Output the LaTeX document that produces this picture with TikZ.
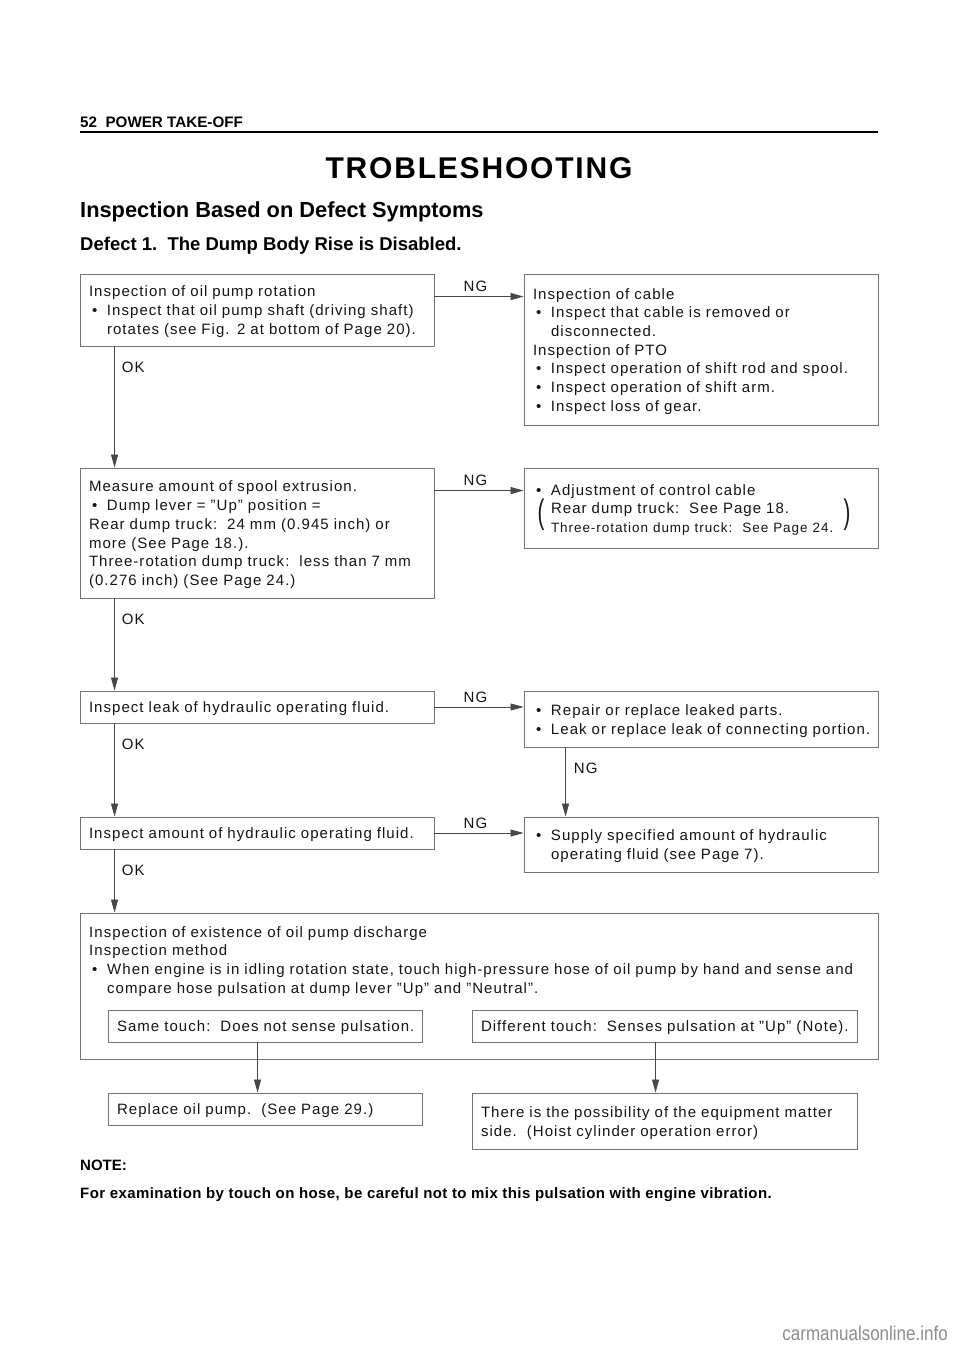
\documentclass[tikz,border=0pt]{standalone}
\usepackage{fontspec}
\setmainfont{Liberation Sans}
\usetikzlibrary{arrows.meta}
\newcommand{\bitem}{\makebox[18pt][l]{\hspace{3pt}\textbullet}}
\newcommand{\bind}{\hspace*{18pt}}
\newcommand{\bodyfont}{\fontsize{15}{18.7}\selectfont\addfontfeatures{LetterSpace=7}}
\begin{document}
\begin{tikzpicture}[x=1pt,y=-1pt,
  txt/.style={align=left, inner xsep=9pt, inner ysep=0pt, font=\bodyfont, text=black!92},
  box/.style={txt, draw=black!55, line width=0.9pt, execute at begin node={\rule{0pt}{14.5pt}}},
  arr/.style={draw=black!72, line width=0.8pt, -{Triangle[length=13pt,width=7pt]}},
  lbl/.style={inner sep=0pt, font=\bodyfont, text=black!92},
  head/.style={inner sep=0pt, anchor=base west, text=black},
]
\useasboundingbox (0,0) rectangle (960,1358);

% header
\node[head, font=\bfseries\fontsize{15.2}{17}\selectfont] (hdr) at (80,127) {52\ \ POWER TAKE-OFF};
\draw[line width=1.4pt] (80,132) -- (878,132);
\node[head, anchor=base, font=\bfseries\fontsize{30}{34}\selectfont\addfontfeatures{LetterSpace=6}] (title) at (479,178) {TROBLESHOOTING};
\node[head, font=\bfseries\fontsize{21.8}{24}\selectfont] (sub) at (80,217) {Inspection Based on Defect Symptoms};
\node[head, font=\bfseries\fontsize{18.5}{20}\selectfont] (def) at (80,250) {Defect 1.\ \ The Dump Body Rise is Disabled.};

% boxes
\node[box, minimum width=354pt, minimum height=72pt, text width=336pt] (b1) at (257,310)
 {Inspection of oil pump rotation\\
  \bitem Inspect that oil pump shaft (driving shaft)\\
  \bind rotates (see Fig. 2 at bottom of Page 20).};
\node[box, minimum width=354pt, minimum height=151pt, text width=336pt] (b2) at (701,349.5)
 {Inspection of cable\\
  \bitem Inspect that cable is removed or\\
  \bind disconnected.\\
  Inspection of PTO\\
  \bitem Inspect operation of shift rod and spool.\\
  \bitem Inspect operation of shift arm.\\
  \bitem Inspect loss of gear.};
\node[box, minimum width=354pt, minimum height=130pt, text width=336pt] (b3) at (257,533)
 {Measure amount of spool extrusion.\\
  \bitem Dump lever = "Up" position =\\
  Rear dump truck:\ \ 24 mm (0.945 inch) or\\
  more (See Page 18.).\\
  Three-rotation dump truck:\ \ less than 7 mm\\
  (0.276 inch) (See Page 24.)};
\node[box, minimum width=354pt, minimum height=80pt, text width=336pt] (b4) at (701,508)
 {\bitem Adjustment of control cable\\
  \bind Rear dump truck:\ \ See Page 18.\\
  \bind{\fontsize{13.5}{16}\selectfont\addfontfeatures{LetterSpace=7}Three-rotation dump truck:\ \ See Page 24.}};
\node[lbl, font=\fontsize{34}{34}\selectfont\addfontfeatures{FakeStretch=0.6}] (lp) at (541,515) {(};
\node[lbl, font=\fontsize{34}{34}\selectfont\addfontfeatures{FakeStretch=0.6}] (rp) at (847,515) {)};
\node[box, minimum width=354pt, minimum height=32pt, text width=336pt] (b5) at (257,707)
 {Inspect leak of hydraulic operating fluid.};
\node[box, minimum width=354pt, minimum height=56pt, text width=336pt] (b6) at (701,719)
 {\bitem Repair or replace leaked parts.\\
  \bitem Leak or replace leak of connecting portion.};
\node[box, minimum width=354pt, minimum height=32pt, text width=336pt] (b7) at (257,833)
 {Inspect amount of hydraulic operating fluid.};
\node[box, minimum width=354pt, minimum height=55pt, text width=336pt] (b8) at (701,844.5)
 {\bitem Supply specified amount of hydraulic\\
  \bind operating fluid (see Page 7).};
\node[box, minimum width=798pt, minimum height=146pt] (b9) at (479,986) {};
\node[txt, anchor=north west, inner xsep=0pt, text width=790pt] (b9t) at (89,926)
 {Inspection of existence of oil pump discharge\\
  Inspection method\\
  \bitem When engine is in idling rotation state, touch high-pressure hose of oil pump by hand and sense and\\
  \bind compare hose pulsation at dump lever "Up" and "Neutral".};
\node[box, minimum width=314pt, minimum height=32pt, text width=296pt] (ba) at (265,1026)
 {Same touch:\ \ Does not sense pulsation.};
\node[box, minimum width=385pt, minimum height=32pt, text width=367pt] (bb) at (664.5,1026)
 {Different touch:\ \ Senses pulsation at "Up" (Note).};
\node[box, minimum width=314pt, minimum height=32pt, text width=296pt] (bc) at (265,1109)
 {Replace oil pump.\ \ (See Page 29.)};
\node[box, minimum width=385pt, minimum height=56pt, text width=367pt] (bd) at (664.5,1121)
 {There is the possibility of the equipment matter\\
  side.\ \ (Hoist cylinder operation error)};

% horizontal NG connectors
\draw[arr] ([yshift=-23pt]b1.north east) -- ([yshift=-23pt]b1.north east -| b2.west)
  node[lbl, pos=0.46, anchor=base, yshift=5pt] {NG};
\draw[arr] ([yshift=-23pt]b3.north east) -- ([yshift=-23pt]b3.north east -| b4.west)
  node[lbl, pos=0.46, anchor=base, yshift=5pt] {NG};
\draw[arr] (b5.east) -- (b5.east -| b6.west)
  node[lbl, pos=0.46, anchor=base, yshift=5pt] {NG};
\draw[arr] (b7.east) -- (b7.east -| b8.west)
  node[lbl, pos=0.46, anchor=base, yshift=5pt] {NG};
% vertical OK connectors
\draw[arr] ([xshift=35pt]b1.south west) -- ([xshift=35pt]b1.south west |- b3.north)
  node[lbl, at start, anchor=north west, xshift=7pt, yshift=-15pt] {OK};
\draw[arr] ([xshift=35pt]b3.south west) -- ([xshift=35pt]b3.south west |- b5.north)
  node[lbl, at start, anchor=north west, xshift=7pt, yshift=-15pt] {OK};
\draw[arr] ([xshift=35pt]b5.south west) -- ([xshift=35pt]b5.south west |- b7.north)
  node[lbl, at start, anchor=north west, xshift=7pt, yshift=-15pt] {OK};
\draw[arr] ([xshift=35pt]b7.south west) -- ([xshift=35pt]b7.south west |- b9.north)
  node[lbl, at start, anchor=north west, xshift=7pt, yshift=-15pt] {OK};
\draw[arr] ([xshift=42pt]b6.south west) -- ([xshift=42pt]b6.south west |- b8.north)
  node[lbl, at start, anchor=north west, xshift=8pt, yshift=-15pt] {NG};
% result connectors
\draw[arr] ([xshift=150pt]ba.south west) -- ([xshift=150pt]ba.south west |- bc.north);
\draw[arr] ([xshift=184pt]bb.south west) -- ([xshift=184pt]bb.south west |- bd.north);

% note
\node[head, font=\bfseries\fontsize{15}{17}\selectfont] (note) at (80,1170) {NOTE:};
\node[head, font=\bfseries\fontsize{15}{17}\selectfont\addfontfeatures{LetterSpace=2.8}] (notet) at (80,1198) {For examination by touch on hose, be careful not to mix this pulsation with engine vibration.};
\node[head, anchor=base east, font=\fontsize{20}{22}\selectfont\addfontfeatures{FakeStretch=0.85}, text=black!45] (wm) at (948,1340) {carmanualsonline.info};
\end{tikzpicture}
\end{document}
